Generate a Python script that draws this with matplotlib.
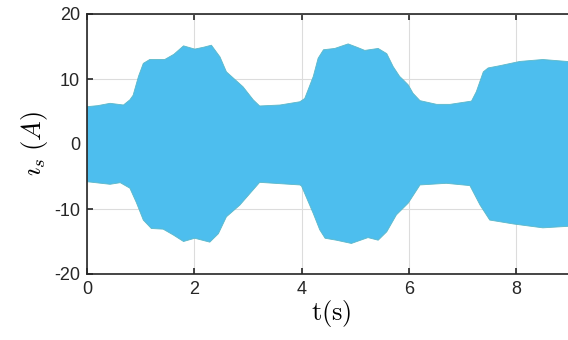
import numpy as np
import matplotlib.pyplot as plt

plt.rcParams['font.family'] = ['Liberation Sans', 'DejaVu Sans']
plt.rcParams['mathtext.fontset'] = 'cm'
plt.rcParams['axes.unicode_minus'] = False

# ── Envelope of the stator current ────────────────────────────────
t_up = [0, 0.2, 0.43, 0.68, 0.80, 0.86, 0.96, 1.05, 1.17, 1.45, 1.62, 1.80,
        2.01, 2.18, 2.32, 2.48, 2.60, 2.91, 3.10, 3.22, 3.60, 3.97, 4.06, 4.22,
        4.31, 4.41, 4.62, 4.87, 5.03, 5.18, 5.43, 5.59, 5.71, 5.83, 5.90, 5.99,
        6.08, 6.21, 6.52, 6.77, 7.17, 7.26, 7.39, 7.48, 7.70, 8.07, 8.50, 9.1]
i_up = [5.74, 5.9, 6.26, 6.0, 6.8, 7.5, 10.4, 12.4, 13.0, 13.0, 13.8, 15.1,
        14.6, 14.9, 15.2, 13.4, 11.1, 8.8, 6.8, 5.85, 6.0, 6.5, 7.0, 10.4,
        13.2, 14.5, 14.7, 15.4, 14.9, 14.4, 14.7, 13.9, 11.9, 10.4, 9.85, 9.1,
        7.8, 6.67, 6.1, 6.1, 6.6, 8.05, 11.1, 11.7, 12.05, 12.7, 13.0, 12.6]

t_lo = [0, 0.43, 0.62, 0.80, 0.92, 1.05, 1.2, 1.42, 1.61, 1.80, 2.01, 2.29,
        2.45, 2.60, 2.85, 3.22, 3.97, 4.0, 4.22, 4.34, 4.44, 4.65, 4.93, 5.24,
        5.43, 5.59, 5.77, 5.99, 6.21, 6.70, 7.14, 7.33, 7.51, 7.95, 8.50, 9.1]
i_lo = [-5.8, -6.2, -5.95, -6.8, -9.0, -11.7, -13.0, -13.1, -14.0, -15.0,
        -14.5, -15.1, -13.8, -11.2, -9.4, -5.9, -6.3, -6.46, -10.7, -13.2,
        -14.5, -14.8, -15.3, -14.4, -14.8, -13.5, -10.9, -9.1, -6.3, -6.05,
        -6.4, -9.4, -11.7, -12.3, -12.9, -12.6]

x_ticks = [0, 2, 4, 6, 8]
y_ticks = [-20, -10, 0, 10, 20]

c_fill = '#4DBEEE'

fig = plt.figure(figsize=(5.68, 3.40), dpi=100)
ax = fig.add_axes([87 / 568, 66 / 340, 488 / 568, 260 / 340])

ax.fill(np.r_[t_up, t_lo[::-1]], np.r_[i_up, i_lo[::-1]],
        facecolor=c_fill, linewidth=0.6, edgecolor='#5cb8c8', zorder=2)

ax.set_xlim(0, 9.1)
ax.set_ylim(-20, 20)
ax.set_xticks(x_ticks)
ax.set_yticks(y_ticks)
ax.grid(True, color='#dcdcdc', linewidth=0.8, zorder=0)
ax.set_axisbelow(True)
ax.tick_params(direction='in', length=4, width=1.2, labelsize=13,
               top=True, right=True, colors='#262626', pad=5)
for s in ax.spines.values():
    s.set_color('#262626')
    s.set_linewidth(1.2)

ax.set_xlabel(r'$\mathrm{t(s)}$', fontsize=19, labelpad=0)
ax.set_ylabel(r'$\imath_s\;(A)$', fontsize=19, labelpad=3)

plt.savefig('out.png', dpi=100)
plt.close()
